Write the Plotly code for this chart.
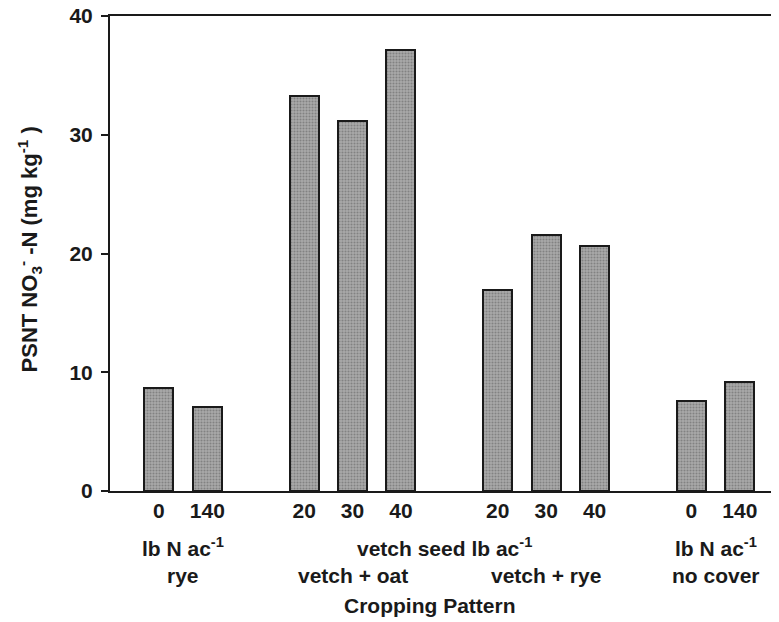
import plotly.graph_objects as go

# Data
bar_labels = ["0", "140", "20", "30", "40", "20", "30", "40", "0", "140"]
bar_positions = [0, 1, 3, 4, 5, 7, 8, 9, 11, 12]
psnt_values = [8.7, 7.05, 33.3, 31.2, 37.1, 16.9, 21.6, 20.6, 7.6, 9.2]

group_names = ["rye", "vetch + oat", "vetch + rye", "no cover"]
group_members = [[0, 1], [2, 3, 4], [5, 6, 7], [8, 9]]
unit_labels = ["lb N ac<sup>-1</sup>", "vetch seed lb ac<sup>-1</sup>", "lb N ac<sup>-1</sup>"]
y_ticks = [0, 10, 20, 30, 40]

FONT = "Liberation Sans, Arial, sans-serif"
INK = "#1a1a1a"

fig = go.Figure()
fig.add_trace(go.Bar(
    x=bar_positions,
    y=psnt_values,
    width=0.6,
    marker=dict(
        color="#a0a0a0",
        line=dict(color=INK, width=2),
        pattern=dict(shape=".", fgcolor="#5a5a5a", bgcolor="#aaaaaa", size=3, solidity=0.4),
    ),
    showlegend=False,
))

def center(idx_list):
    ps = [bar_positions[i] for i in idx_list]
    return (min(ps) + max(ps)) / 2

ann = []
ann.append(dict(x=center(group_members[0]), text=unit_labels[0], y=-0.118))
ann.append(dict(x=(center(group_members[1]) + center(group_members[2])) / 2 - 0.1, text=unit_labels[1], y=-0.118))
ann.append(dict(x=center(group_members[3]), text=unit_labels[2], y=-0.118))
for g, members in zip(group_names, group_members):
    ann.append(dict(x=center(members), text=g, y=-0.178))
annotations = []
for a in ann:
    annotations.append(dict(
        x=a["x"], y=a["y"], xref="x", yref="paper", text="<b>" + a["text"] + "</b>",
        showarrow=False, yanchor="middle", xanchor="center",
        font=dict(family=FONT, size=21, color=INK),
    ))
annotations.append(dict(
    x=5.6, y=-0.242, xref="x", yref="paper", text="<b>Cropping Pattern</b>",
    showarrow=False, yanchor="middle", xanchor="center",
    font=dict(family=FONT, size=21, color=INK),
))
annotations.append(dict(
    x=-0.12, y=0.508, xref="paper", yref="paper", textangle=-90,
    text="<b>PSNT NO<sub>3</sub><sup>-</sup> -N (mg kg<sup>-1</sup> )</b>",
    showarrow=False, xanchor="center", yanchor="middle",
    font=dict(family=FONT, size=22, color=INK),
))

# page body has an 8px default margin, so the figure is 8px smaller and shifted
fig.update_layout(
    width=771, height=614,
    margin=dict(l=102, r=0, t=8, b=131),
    paper_bgcolor="white", plot_bgcolor="white",
    bargap=0,
    annotations=annotations,
    xaxis=dict(
        range=[-1.01, 12.81], automargin=False,
        tickmode="array", tickvals=bar_positions,
        ticktext=["<b>" + t + "</b>" for t in bar_labels],
        tickfont=dict(family=FONT, size=21, color=INK),
        ticks="", showline=True, linecolor=INK, linewidth=2, mirror=True,
        showgrid=False, zeroline=False,
    ),
    yaxis=dict(
        range=[0, 40], automargin=False, ticklabeloverflow="allow",
        tickmode="array", tickvals=y_ticks,
        ticktext=["<b>%d</b>" % v for v in y_ticks],
        tickfont=dict(family=FONT, size=21, color=INK),
        ticks="outside", ticklen=7, tickwidth=2, tickcolor=INK,
        ticklabelstandoff=4,
        showline=True, linecolor=INK, linewidth=2,
        showgrid=False, zeroline=False,
    ),
)

fig.write_html("out.html")
